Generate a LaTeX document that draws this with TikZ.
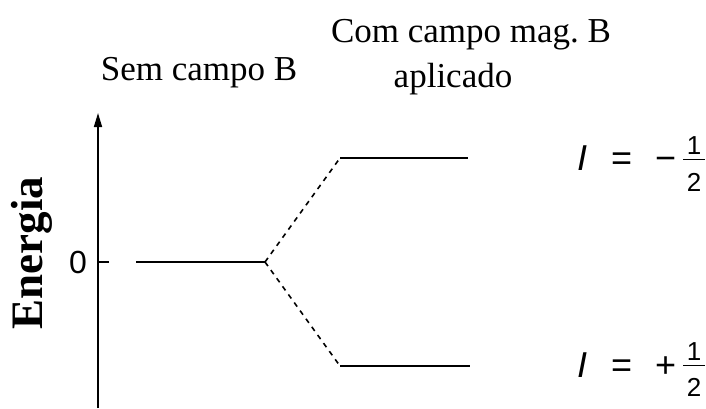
\documentclass[tikz,border=0pt]{standalone}
\usepackage{fontspec}
\setmainfont{Liberation Serif}
\newfontfamily\eqfont{Liberation Sans}
\usetikzlibrary{arrows.meta}

\begin{document}
\begin{tikzpicture}[x=1pt, y=1pt,
  level/.style={line width=1.6pt},
  split/.style={line width=1.6pt, dash pattern=on 5pt off 5pt},
  head/.style={font=\fontsize{35}{44}\selectfont, anchor=base},
  spin/.style={font=\fontsize{36}{40}\selectfont\eqfont, anchor=west, inner sep=0pt},
  digit/.style={font=\fontsize{26}{26}\selectfont\eqfont, inner sep=0pt}]
  \useasboundingbox (0,0) rectangle (706,408);

  % energy axis
  \coordinate (axisbot) at (98,0);
  \coordinate (axistop) at (98,295);
  \draw[line width=1.6pt, -{Triangle[length=14pt, width=8pt]}] (axisbot) -- (axistop);
  \coordinate (tick) at (109,146);
  \draw[line width=1.4pt] (tick) -- (tick -| axisbot);
  \node[font=\fontsize{45}{45}\selectfont\bfseries, rotate=90, anchor=base] (energia) at (42,155) {Energia};
  \node[font=\fontsize{32}{32}\selectfont\eqfont] (zero) at (78,146) {0};

  % levels
  \coordinate (zeroL) at (136,146);
  \coordinate (fork) at (265,146);
  \coordinate (upL) at (340,250);
  \coordinate (upR) at (468,250);
  \coordinate (lowL) at (340,42);
  \coordinate (lowR) at (470,42);
  \draw[level] (zeroL) -- (fork);
  \draw[level] (upL) -- (upR);
  \draw[level] (lowL) -- (lowR);
  \draw[split] (fork) -- (upL);
  \draw[split] (fork) -- (lowL);

  % titles
  \node[head] (semB) at (199,327) {Sem campo B};
  \node[head] (comB) at (471,365) {Com campo mag.\ B};
  \node[head] (aplic) at (453,321) {aplicado};

  % spin states
  \node[spin] (spinup) at (577,250) {\textit{I}\hspace{24pt}=\hspace{23pt}−};
  \node[digit] (upnum) at (694,262) {1};
  \node[digit] (upden) at (694,226) {2};
  \draw[line width=1pt] (683,249) -- (705,249);
  \node[spin] (spindown) at (577,43) {\textit{I}\hspace{24pt}=\hspace{23pt}+};
  \node[digit] (downnum) at (694,56) {1};
  \node[digit] (downden) at (694,21) {2};
  \draw[line width=1pt] (683,43) -- (705,43);
\end{tikzpicture}
\end{document}
